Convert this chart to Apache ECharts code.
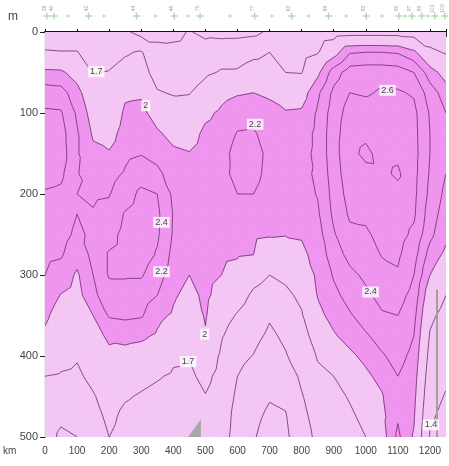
<!DOCTYPE html>
<html><head><meta charset="utf-8">
<script src="https://cdn.jsdelivr.net/npm/echarts@6/dist/echarts.min.js"></script>
<style>html,body{margin:0;padding:0;background:#fff}#c{width:449px;height:466px}</style>
</head><body><div id="c"></div>
<script>
// ---------- data ----------
const distKm = [0,50,100,150,200,250,300,350,400,450,500,550,600,650,700,750,800,850,900,950,1000,1050,1100,1150,1200,1250];
const depthM = [0,25,50,75,100,125,150,175,200,225,250,275,300,325,350,375,400,425,450,475,500];
// one row per depth, one value per distance column
const v000 = [1.55,1.55,1.55,1.50,1.50,1.45,1.30,1.30,1.32,1.42,1.32,1.30,1.30,1.33,1.45,1.50,1.52,1.55,1.58,1.60,1.60,1.60,1.60,1.58,1.55,1.55];
const v025 = [1.72,1.71,1.71,1.58,1.62,1.68,1.72,1.50,1.48,1.50,1.55,1.60,1.62,1.66,1.70,1.62,1.60,1.68,1.90,2.18,2.20,2.20,2.18,2.05,1.75,1.68];
const v050 = [2.05,2.04,1.90,1.69,1.71,1.77,1.80,1.60,1.55,1.56,1.66,1.72,1.72,1.77,1.78,1.70,1.69,1.95,2.30,2.50,2.52,2.52,2.50,2.40,2.10,1.90];
const v075 = [2.30,2.28,2.08,1.80,1.75,1.96,1.97,1.72,1.68,1.69,1.80,1.93,1.98,2.00,1.97,1.88,1.90,2.16,2.45,2.60,2.58,2.62,2.62,2.58,2.30,2.10];
const v100 = [2.43,2.42,2.17,1.90,1.80,2.04,2.06,1.90,1.82,1.80,1.95,2.04,2.12,2.13,2.06,2.02,2.03,2.23,2.50,2.68,2.68,2.70,2.70,2.65,2.38,2.20];
const v125 = [2.50,2.48,2.22,1.97,1.90,2.10,2.13,2.03,1.93,1.90,2.05,2.10,2.21,2.22,2.12,2.08,2.10,2.25,2.52,2.72,2.76,2.72,2.74,2.66,2.40,2.22];
const v150 = [2.52,2.50,2.22,2.05,2.02,2.16,2.19,2.13,2.04,2.01,2.10,2.14,2.26,2.26,2.16,2.10,2.13,2.25,2.52,2.75,2.84,2.74,2.76,2.67,2.40,2.22];
const v175 = [2.47,2.44,2.21,2.12,2.14,2.22,2.30,2.25,2.10,2.08,2.12,2.15,2.25,2.25,2.15,2.10,2.15,2.23,2.50,2.72,2.75,2.76,2.83,2.66,2.38,2.20];
const v200 = [2.38,2.36,2.20,2.18,2.19,2.30,2.45,2.40,2.16,2.12,2.13,2.12,2.20,2.20,2.12,2.08,2.14,2.21,2.47,2.68,2.70,2.74,2.74,2.65,2.35,2.15];
const v225 = [2.30,2.30,2.20,2.21,2.25,2.42,2.50,2.44,2.19,2.14,2.13,2.10,2.12,2.10,2.06,2.05,2.10,2.17,2.44,2.63,2.64,2.70,2.70,2.63,2.30,2.10];
const v250 = [2.26,2.27,2.16,2.24,2.33,2.46,2.52,2.43,2.18,2.12,2.12,2.07,2.07,2.04,2.02,2.01,2.02,2.12,2.38,2.55,2.57,2.66,2.67,2.56,2.25,2.05];
const v275 = [2.24,2.22,2.08,2.25,2.42,2.47,2.50,2.38,2.14,2.07,2.10,2.04,2.02,2.00,1.85,1.88,1.95,2.08,2.30,2.46,2.50,2.61,2.63,2.48,2.12,1.95];
const v300 = [2.20,2.12,1.97,2.20,2.42,2.42,2.42,2.28,2.10,2.00,2.08,2.00,1.92,1.78,1.70,1.75,1.85,2.04,2.22,2.35,2.44,2.53,2.58,2.40,2.00,1.82];
const v325 = [2.12,1.99,1.92,2.16,2.30,2.32,2.30,2.20,2.03,1.93,2.05,1.90,1.80,1.66,1.60,1.65,1.75,2.01,2.15,2.27,2.36,2.46,2.48,2.33,1.85,1.70];
const v350 = [2.04,1.90,1.86,2.00,2.22,2.24,2.22,2.06,1.97,1.86,2.02,1.80,1.68,1.57,1.43,1.55,1.68,1.95,2.06,2.18,2.28,2.38,2.40,2.26,1.75,1.62];
const v375 = [1.96,1.84,1.80,1.92,2.04,2.06,2.04,1.97,1.85,1.78,1.98,1.72,1.58,1.48,1.35,1.45,1.60,1.82,1.98,2.07,2.18,2.27,2.32,2.20,1.68,1.55];
const v400 = [1.84,1.77,1.72,1.85,1.95,1.93,1.90,1.85,1.74,1.71,1.86,1.66,1.47,1.39,1.25,1.38,1.53,1.72,1.84,1.96,2.05,2.18,2.26,2.15,1.62,1.50];
const v425 = [1.70,1.68,1.66,1.76,1.86,1.80,1.76,1.72,1.67,1.66,1.76,1.62,1.40,1.30,1.18,1.25,1.45,1.65,1.70,1.82,1.96,2.06,2.20,2.10,1.56,1.45];
const v450 = [1.62,1.58,1.58,1.68,1.80,1.72,1.68,1.64,1.60,1.60,1.69,1.58,1.35,1.22,1.12,1.15,1.38,1.57,1.63,1.72,1.85,1.98,2.17,2.06,1.50,1.38];
const v475 = [1.56,1.45,1.48,1.62,1.75,1.65,1.62,1.60,1.57,1.56,1.65,1.55,1.30,1.16,1.05,1.08,1.33,1.50,1.58,1.66,1.76,1.94,2.18,2.02,1.44,1.32];
const v500 = [1.52,1.35,1.40,1.58,1.70,1.62,1.60,1.58,1.55,1.55,1.62,1.52,1.28,1.12,1.00,1.04,1.30,1.45,1.55,1.62,1.70,1.90,2.24,1.98,1.38,1.28];
const valueRows = [v000,v025,v050,v075,v100,v125,v150,v175,v200,v225,v250,v275,v300,v325,v350,v375,v400,v425,v450,v475,v500];

const contourLevels = [1.1,1.4,1.7,2.0,2.2,2.4,2.6,2.8];
const fillBreaks = [2.0];
const contourLabelText = ['1.7','2','2.6','2.2','2.4','2.2','2.4','2','1.7','1.4'];
const contourLabelKm   = [160,314,1068,655,363,363,1015,498,446,1203];
const contourLabelM    = [49,91,72,114,235,296,321,373,407,485];

const stationKm   = [6,28,71,135,182,283,342,400,443,480,572,649,702,763,815,877,932,994,1043,1095,1114,1135,1166,1185,1206,1237];
const stationName = ['38','40','','42','','44','','46','','75','','77','','83','','89','','93','','95','','97','99','','101','103'];

const xTickValues = [0,100,200,300,400,500,600,700,800,900,1000,1100,1200];
const yTickValues = [0,100,200,300,400,500];
const seabedKm = [446,486,486];
const seabedM  = [500,478,500];
const bottomProfileKm = [1222,1222];
const bottomProfileM  = [318,500];

// ---------- rendering helpers ----------
const colLight = '#f4c6f4';
const colDark  = '#ef95ef';
const lineCol  = '#6b2c6b';
const bandColors = [colLight, colDark];

function clipPoly(poly, t, keepAbove){
  const out=[];
  for(let k=0;k<poly.length;k++){
    const P=poly[k], Q=poly[(k+1)%poly.length];
    const pin = keepAbove ? P[2]>=t : P[2]<t;
    const qin = keepAbove ? Q[2]>=t : Q[2]<t;
    if(pin) out.push(P);
    if(pin!==qin){
      const f=(t-P[2])/(Q[2]-P[2]);
      out.push([P[0]+f*(Q[0]-P[0]), P[1]+f*(Q[1]-P[1]), t]);
    }
  }
  return out;
}
function cellTriangles(i,j){
  const a=[distKm[j],depthM[i],valueRows[i][j]];
  const b=[distKm[j+1],depthM[i],valueRows[i][j+1]];
  const c=[distKm[j+1],depthM[i+1],valueRows[i+1][j+1]];
  const d=[distKm[j],depthM[i+1],valueRows[i+1][j]];
  return [[a,b,c],[a,c,d]];
}
const cells=[];
for(let i=0;i<depthM.length-1;i++) for(let j=0;j<distKm.length-1;j++)
  cells.push([(distKm[j]+distKm[j+1])/2,(depthM[i]+depthM[i+1])/2,i,j]);

function renderFill(params, api){
  const i=api.value(2), j=api.value(3);
  const children=[];
  const bounds=[-Infinity].concat(fillBreaks,[Infinity]);
  cellTriangles(i,j).forEach(tri=>{
    for(let b=0;b<bounds.length-1;b++){
      let p=tri;
      if(bounds[b]>-Infinity) p=clipPoly(p,bounds[b],true);
      if(p.length<3) continue;
      if(bounds[b+1]<Infinity) p=clipPoly(p,bounds[b+1],false);
      if(p.length<3) continue;
      const pts=p.map(q=>api.coord([q[0],q[1]]));
      children.push({type:'polygon',shape:{points:pts},style:{fill:bandColors[b],stroke:bandColors[b],lineWidth:0.7}});
    }
  });
  return {type:'group',children};
}
function renderLines(params, api){
  const i=api.value(2), j=api.value(3);
  const children=[];
  cellTriangles(i,j).forEach(tri=>{
    contourLevels.forEach(L=>{
      const pts=[];
      for(let k=0;k<3;k++){
        const P=tri[k],Q=tri[(k+1)%3];
        const pa=P[2]>=L, qa=Q[2]>=L;
        if(pa!==qa){
          const f=(L-P[2])/(Q[2]-P[2]);
          pts.push(api.coord([P[0]+f*(Q[0]-P[0]),P[1]+f*(Q[1]-P[1])]));
        }
      }
      if(pts.length===2) children.push({type:'line',shape:{x1:pts[0][0],y1:pts[0][1],x2:pts[1][0],y2:pts[1][1]},style:{stroke:lineCol,lineWidth:0.8}});
    });
  });
  return {type:'group',children};
}

const chart = echarts.init(document.getElementById('c'), null, {renderer:'canvas'});
const axisFont = {fontFamily:'Liberation Sans, Arial, sans-serif', fontSize:10, color:'#444'};
chart.setOption({
  animation:false,
  backgroundColor:'#fff',
  grid:[
    {left:45, top:32, width:406, height:405},
    {left:45, top:8, width:406, height:16}
  ],
  xAxis:[
    {gridIndex:0, type:'value', min:0, max:1250, interval:100, position:'bottom',
     axisLine:{lineStyle:{color:'#222',width:1.2}}, axisTick:{length:5, lineStyle:{color:'#222'}},
     axisLabel:Object.assign({margin:9, formatter:v=>xTickValues.indexOf(v)>=0?String(v):''},axisFont),
     splitLine:{show:false}},
    {gridIndex:0, type:'value', min:0, max:1250, interval:100, position:'top',
     axisLine:{lineStyle:{color:'#111',width:2}}, axisTick:{length:3, lineStyle:{color:'#111'}},
     axisLabel:{show:false}, splitLine:{show:false}},
    {gridIndex:1, type:'value', min:0, max:1250, show:false}
  ],
  yAxis:[
    {gridIndex:0, type:'value', min:0, max:500, interval:100, inverse:true,
     axisLine:{show:true,lineStyle:{color:'#222',width:1.2}}, axisTick:{show:true,length:5,lineStyle:{color:'#222'}},
     axisLabel:Object.assign({margin:7, formatter:v=>yTickValues.indexOf(v)>=0?String(v):''},axisFont,{fontSize:11}),
     splitLine:{show:false}},
    {gridIndex:1, type:'value', min:0, max:1, show:false}
  ],
  graphic:[
    {type:'text', left:8, top:11, style:{text:'m', font:'12px Liberation Sans, Arial, sans-serif', fill:'#444'}},
    {type:'text', left:3, top:446, style:{text:'km', font:'10px Liberation Sans, Arial, sans-serif', fill:'#444'}}
  ],
  series:[
    {type:'custom', xAxisIndex:0, yAxisIndex:0, data:cells, renderItem:renderFill, clip:true, silent:true, z:1},
    {type:'custom', xAxisIndex:0, yAxisIndex:0, data:cells, renderItem:renderLines, clip:true, silent:true, z:2},
    {type:'custom', xAxisIndex:0, yAxisIndex:0, data:[0], z:3, silent:true,
     renderItem:(p,api)=>({type:'polygon',shape:{points:seabedKm.map((k,n)=>api.coord([k,seabedM[n]]))},style:{fill:'#a8a8a8'}})},
    {type:'custom', xAxisIndex:0, yAxisIndex:0, data:[0], z:3, silent:true,
     renderItem:(p,api)=>{const a=api.coord([bottomProfileKm[0],bottomProfileM[0]]),b=api.coord([bottomProfileKm[1],bottomProfileM[1]]);
       return {type:'line',shape:{x1:a[0],y1:a[1],x2:b[0],y2:b[1]},style:{stroke:'#a0a0a0',lineWidth:2}};}},
    {type:'scatter', xAxisIndex:0, yAxisIndex:0, z:5, symbolSize:0, silent:true,
     data:contourLabelText.map((t,n)=>({value:[contourLabelKm[n],contourLabelM[n]],name:t})),
     label:{show:true, position:'inside', formatter:p=>p.name, fontSize:9, fontFamily:'Liberation Sans, Arial, sans-serif', color:'#111', backgroundColor:'#fff', padding:[1,2]}},
    {type:'scatter', xAxisIndex:2, yAxisIndex:1, z:5, silent:true, symbol:'path://M4,0 L6,0 L6,4 L10,4 L10,6 L6,6 L6,10 L4,10 L4,6 L0,6 L0,4 L4,4 Z',
     data:stationKm.map((k,n)=>({value:[k,0.5],name:stationName[n],symbolSize:stationName[n]?7:4})),
     itemStyle:{color:'#9ccf9c'},
     label:{show:true, position:'top', distance:4, rotate:90, formatter:p=>p.name, fontSize:5, color:'#888', fontFamily:'Liberation Sans, Arial, sans-serif'}}
  ]
});
</script>
</body></html>
